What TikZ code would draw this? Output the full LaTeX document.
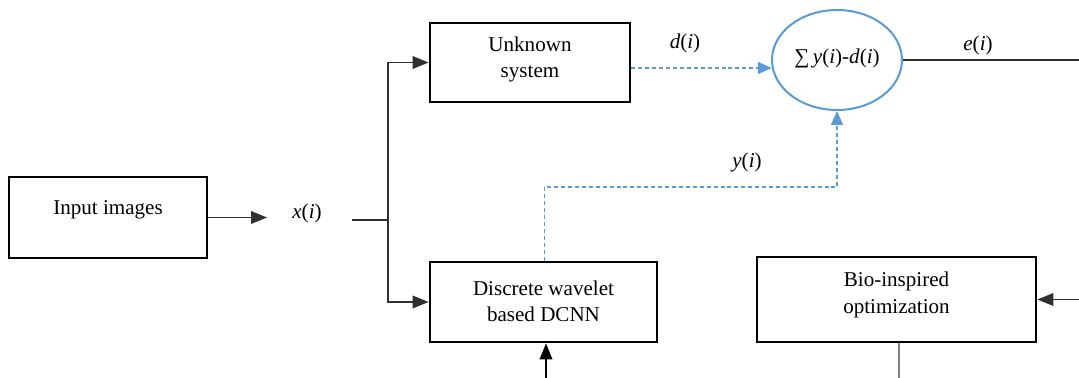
\documentclass[tikz,border=0pt]{standalone}
\usepackage{fontspec}
\setmainfont{Liberation Serif}
\usetikzlibrary{arrows.meta,shapes.geometric}
\definecolor{lineg}{HTML}{303030}
\definecolor{lblue}{HTML}{5B9BD5}
\tikzset{
  txt/.style={font=\fontsize{15.8}{20}\selectfont, align=center, inner sep=0pt},
  blk/.style={draw=black, line width=2.1pt, rectangle, inner sep=0pt},
  conn/.style={draw=lineg, line width=1.1pt},
  arr/.style={conn, -{Triangle[length=12pt,width=9.5pt]}},
  darr/.style={draw=lblue, line width=1.1pt, dash pattern=on 3pt off 2.2pt, -{Triangle[length=10.5pt,width=9pt,fill=lblue]}},
}
\begin{document}
\begin{tikzpicture}[x=0.75pt, y=-0.75pt]
\useasboundingbox (0,0) rectangle (1079,378);
% blocks
\node[blk, minimum width=148.5pt, minimum height=60.75pt,
  label={[txt, yshift=5.5pt]center:Input images}] (in) at (108,217.5) {};
\node[blk, minimum width=150pt, minimum height=59.25pt,
  label={[txt, yshift=2.2pt]center:Unknown\\system}] (unk) at (530,62.5) {};
\node[blk, minimum width=170.25pt, minimum height=60pt,
  label={[txt, yshift=0.5pt]center:Discrete wavelet\\based DCNN}] (dwt) at (543.5,302) {};
\node[blk, minimum width=209.25pt, minimum height=63.75pt,
  label={[txt, yshift=3.3pt]center:Bio-inspired\\optimization}] (bio) at (896.5,299.5) {};
\node[draw=lblue, line width=1.5pt, ellipse, minimum width=97.5pt, minimum height=75pt, inner sep=0pt,
  label={[txt, yshift=1.5pt]center:∑\,\textit{y}(\textit{i})-\textit{d}(\textit{i})}] (sum) at (837,60) {};
% labels
\node[txt] (xl) at (307,213) {\textit{x}(\textit{i})};
\node[txt] (dl) at (685,43) {\textit{d}(\textit{i})};
\node[txt] (yl) at (747,162) {\textit{y}(\textit{i})};
\node[txt] (el) at (978,45) {\textit{e}(\textit{i})};
% coordinates
\coordinate (xa) at (267,217.5);
\coordinate (xb) at (352,220);
\coordinate (split) at (388,220);
\coordinate (ytop) at (544.5,187);
\coordinate (ycorner) at (837,187);
\coordinate (eend) at (1079,60);
\coordinate (bioin) at (1079,299.5);
\coordinate (bioout) at (899,378);
\coordinate (dwtin) at (546,378);
% connectors
\draw[arr] (in.east) -- (xa);
\draw[conn] (xb) -- (split);
\draw[arr] (split) |- (unk.west);
\draw[arr] (split) |- (dwt.west);
\draw[darr] (unk.east |- sum.187) -- (sum.187);
\draw[darr] (ytop |- dwt.north) -- (ytop) -- (ycorner) -- (sum.south);
\draw[conn] (sum.east) -- (eend);
\draw[arr] (bioin) -- (bio.east);
\draw[conn, draw=gray] (bioout |- bio.south) -- (bioout);
\draw[arr, draw=black] (dwtin) -- (dwtin |- dwt.south);
\end{tikzpicture}
\end{document}
